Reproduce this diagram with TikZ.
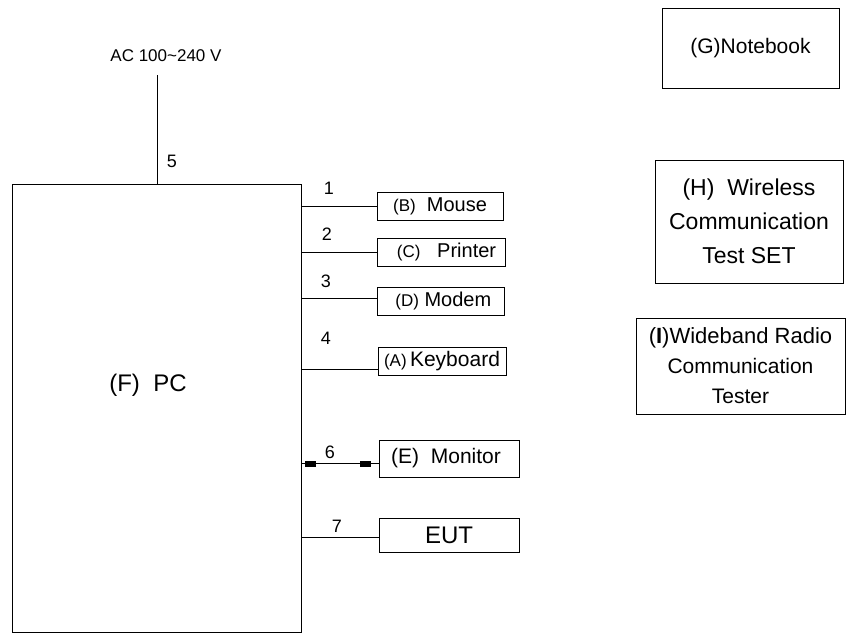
\documentclass[tikz,border=0pt]{standalone}
\usepackage{fontspec}
\setmainfont{Liberation Sans}

\newcommand*{\fsz}[1]{\fontsize{#1}{#1}\selectfont}

\begin{document}
\begin{tikzpicture}
[
	x=1pt, y=-1pt,
	wire/.style={line width=0.8pt},
	unitbox/.style={draw,line width=0.8pt,inner sep=0pt,font=\fsz{20}},
	sidebox/.style={draw,line width=0.8pt,inner sep=0pt,align=center},
	plug/.style={rectangle,draw,fill,inner sep=0pt,minimum width=10pt,minimum height=5pt},
	num/.style={font=\fsz{18}}
]

	\useasboundingbox (0,0) rectangle (847,633);

	% PC and mains
	\node[draw,line width=1pt,minimum width=289pt,minimum height=448pt] (pc) at (156.5,408) {};
	\node[font=\fsz{24}] (pclabel) at (148,385) {(F)\ \ PC};
	\node[font=\fsz{17}] (ac) at (166,56) {AC 100\textasciitilde240 V};
	\coordinate (acin) at (157,75);
	\draw[wire] (acin) -- (acin |- pc.north);
	\node[num] at (172,161) {5};

	% devices on the right of the PC
	\node[unitbox,minimum width=126pt,minimum height=28pt] (mouse) at (440,206) {{\fsz{17}(B)}\ \ Mouse};
	\node[unitbox,minimum width=128pt,minimum height=28pt] (printer) at (441,252) {\ \ {\fsz{17}(C)}\ \ \ Printer};
	\node[unitbox,minimum width=127pt,minimum height=28pt] (modem) at (440.5,301) {\ {\fsz{17}(D)} Modem};
	\node[unitbox,minimum width=128pt,minimum height=28pt] (keyboard) at (442,361) {{\fsz{17}(A)}\,\fsz{21}Keyboard};
	\node[unitbox,minimum width=140pt,minimum height=37pt,font=\fsz{21}] (monitor) at (449,458.5) {(E)\ \ Monitor\ \ };
	\node[unitbox,minimum width=140pt,minimum height=34pt,font=\fsz{24}] (eut) at (449,535) {EUT};

	\draw[wire] (pc.east |- mouse.west) -- (mouse.west);
	\draw[wire] (pc.east |- printer.west) -- (printer.west);
	\draw[wire] ([yshift=3pt]modem.west -| pc.east) -- ([yshift=3pt]modem.west);
	\draw[wire] ([yshift=-8pt]keyboard.west -| pc.east) -- ([yshift=-8pt]keyboard.west);

	\node[plug] (plugpc) at (310,463.5) {};
	\node[plug] (plugmon) at (365,463.5) {};
	\draw[wire] (pc.east |- plugpc) -- (plugpc) -- (plugmon) -- (plugmon -| monitor.west);
	\draw[wire] ([yshift=-2pt]eut.west -| pc.east) -- ([yshift=-2pt]eut.west);

	\node[num] at (329,188) {1};
	\node[num] at (327,234) {2};
	\node[num] at (326,281) {3};
	\node[num] at (326,338) {4};
	\node[num] at (330,452) {6};
	\node[num] at (337,526) {7};

	% stand-alone equipment
	\node[sidebox,minimum width=177pt,minimum height=80pt,font=\fsz{21}] (notebook) at (750.5,48) {(G)Notebook};
	\node[sidebox,minimum width=188pt,minimum height=123pt,font=\fontsize{23}{34}\selectfont] (tester) at (749,221.5) {(H)\ \ Wireless\\Communication\\Test SET};
	\node[sidebox,minimum width=209pt,minimum height=96pt,font=\fontsize{21}{30}\selectfont] (radio) at (740.5,366) {{\fsz{22}(\textbf{I})Wideband Radio}\\Communication\\Tester};

\end{tikzpicture}
\end{document}
